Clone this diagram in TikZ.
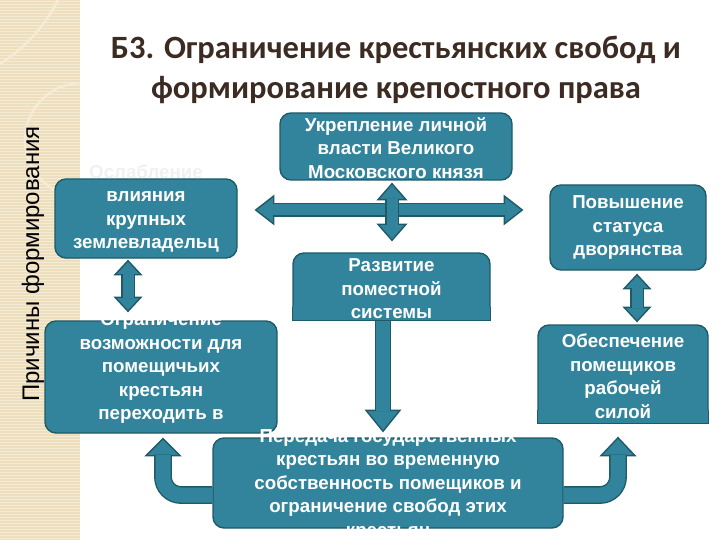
\documentclass[tikz,border=0pt]{standalone}
\usepackage{fontspec}
\setmainfont{Liberation Sans}
\newfontfamily\titlefont{Carlito}
\usetikzlibrary{calc}
\definecolor{tealbox}{HTML}{31849B}
\definecolor{tealedge}{HTML}{1F5A69}
\definecolor{beige}{HTML}{EDDFBD}
\definecolor{beigeline}{HTML}{F5ECD6}
\definecolor{titlebrown}{HTML}{3B2B22}
\tikzset{
  box/.style={draw=tealedge,fill=tealbox,line width=1.4pt,rounded corners=11pt,inner sep=0pt},
  boxtext/.style={text=white,font=\bfseries\fontsize{18.7}{23.5}\selectfont,align=center,inner sep=0pt},
  ghost/.style={text=gray!12,font=\bfseries\fontsize{18.7}{23.5}\selectfont,inner sep=0pt},
  shaft/.style={draw=tealbox,line width=11pt,preaction={draw=tealedge,line width=13.8pt}},
  headst/.style={fill=tealbox,draw=tealedge,line width=1.4pt,line join=miter}
}
% block arrow head: tip point, direction, length, half width
\newcommand\arrhead[4]{\filldraw[headst,shift={(#1)},rotate=#2] (0,0)--(-#3,#4)--(-#3,-#4)--cycle;}

\begin{document}
\begin{tikzpicture}[x=1pt,y=-1pt]
\useasboundingbox (0,0) rectangle (720,540);
% side strip
\fill[beige] (0,0) rectangle (80,540);
\foreach \y in {1.5,4.5,...,540} \draw[beigeline,line width=1pt] (0,\y) -- (80,\y);
\begin{scope}
\clip (0,0) rectangle (80,540);
\draw[white!40!beige,line width=2.5pt] (82,140) circle (57);
\draw[white!40!beige,line width=2.5pt] (0,64) .. controls (25,48) and (45,26) .. (58,0);
\end{scope}
\node[rotate=90,font=\fontsize{24}{28}\selectfont] (side) at (33,264) {Причины формирования};

% title
\node[titlebrown,font=\titlefont\bfseries\fontsize{32.5}{40}\selectfont,align=center] (title) at (396,70)
  {Б3. Ограничение крестьянских свобод и\\формирование крепостного права};

% boxes
\node[box,minimum width=232,minimum height=67] (prince) at (396,146.5) {};
\node[box,minimum width=182,minimum height=79] (infl) at (146,218.5) {};
\node[box,minimum width=156,minimum height=85] (status) at (628,227.5) {};
\node[box,minimum width=197,minimum height=67] (razv) at (391.5,286.5) {};
\node[box,minimum width=232,minimum height=112] (restr) at (161,377) {};
\node[box,minimum width=170,minimum height=98] (supply) at (623,374) {};
\node[box,minimum width=350,minimum height=90] (trans) at (388,483) {};
% square lower corners
\foreach \b in {razv,supply}{
  \fill[tealbox] ($(\b.south west)+(0.7,-0.7)$) rectangle ($(\b.south east)+(-0.7,-14)$);
  \draw[tealedge,line width=1.4pt] ($(\b.south west)+(0,-14)$) -- (\b.south west) -- (\b.south east) -- ++(0,-14);
}

% texts
\node[boxtext] (prince-t) at (396,148) {Укрепление личной\\власти Великого\\Московского князя};
\node[ghost] (infl-g) at (146,172) {Ослабление};
\node[boxtext] (infl-t) at (146,222) {влияния\\крупных\\землевладельц};
\node[boxtext] (status-t) at (628,228) {Повышение\\статуса\\дворянства};
\node[boxtext] (razv-t) at (391.5,289) {Развитие\\поместной\\системы};
\node[boxtext] (restr-t) at (161,368) {Ограничение\\возможности для\\помещичьих\\крестьян\\переходить в};
\node[boxtext] (supply-t) at (623,376) {Обеспечение\\помещиков\\рабочей\\силой};
\node[boxtext] (trans-t) at (388,485) {Передача  государственных\\крестьян во временную\\собственность помещиков  и\\ограничение свобод этих\\крестьян};

% connector points
\coordinate (hL) at ($(infl.east)+(18,-8.5)$);
\coordinate (hR) at ($(status.west)+(-27,-17.5)$);
\coordinate (vT) at ($(prince.south)+(-4,3)$);
\coordinate (vB) at ($(razv.north)+(0.5,-12)$);
\coordinate (lT) at ($(infl.south)+(-18,2)$);
\coordinate (lB) at ($(restr.north)+(-33,-9)$);
\coordinate (rT) at ($(status.south)+(9,4)$);
\coordinate (rB) at ($(supply.north)+(14,-3)$);
\coordinate (dT) at ($(razv.south)+(-8.5,0)$);
\coordinate (dB) at ($(trans.north)+(-5,-6)$);
\coordinate (cL0) at ($(trans.west)+(0,12)$);
\coordinate (cL) at ($(restr.south)+(2,5)$);
\coordinate (cR0) at ($(trans.east)+(0,12)$);
\coordinate (cR) at ($(supply.south)+(-5,14)$);

% cross arrow
\arrhead{hL}{180}{18}{14}
\arrhead{hR}{0}{18}{14}
\draw[shaft] ($(hL)!17pt!(hR)$) -- ($(hR)!17pt!(hL)$);
\arrhead{vT}{90}{16}{14}
\arrhead{vB}{-90}{16}{14}
\draw[shaft] ($(vT)!15pt!(vB)$) -- ($(vB)!15pt!(vT)$);
% side arrows
\arrhead{lT}{90}{14}{13}
\arrhead{lB}{-90}{14}{13}
\draw[shaft] ($(lT)!13pt!(lB)$) -- ($(lB)!13pt!(lT)$);
\arrhead{rT}{90}{14}{13}
\arrhead{rB}{-90}{14}{13}
\draw[shaft] ($(rT)!13pt!(rB)$) -- ($(rB)!13pt!(rT)$);
% down arrow
\arrhead{dB}{-90}{21}{17}
\draw[shaft,line width=14pt,preaction={draw=tealedge,line width=16.8pt}] (dT) -- ($(dB)!20pt!(dT)$);
% bent arrows
\arrhead{cL}{90}{17}{17}
\draw[shaft,line width=15pt,preaction={draw=tealedge,line width=17.8pt},rounded corners=18pt]
  (cL0) -- (cL0 -| cL) -- ($(cL)+(0,16)$);
\arrhead{cR}{90}{18}{17}
\draw[shaft,line width=15pt,preaction={draw=tealedge,line width=17.8pt},rounded corners=18pt]
  (cR0) -- (cR0 -| cR) -- ($(cR)+(0,17)$);
\end{tikzpicture}
\end{document}
